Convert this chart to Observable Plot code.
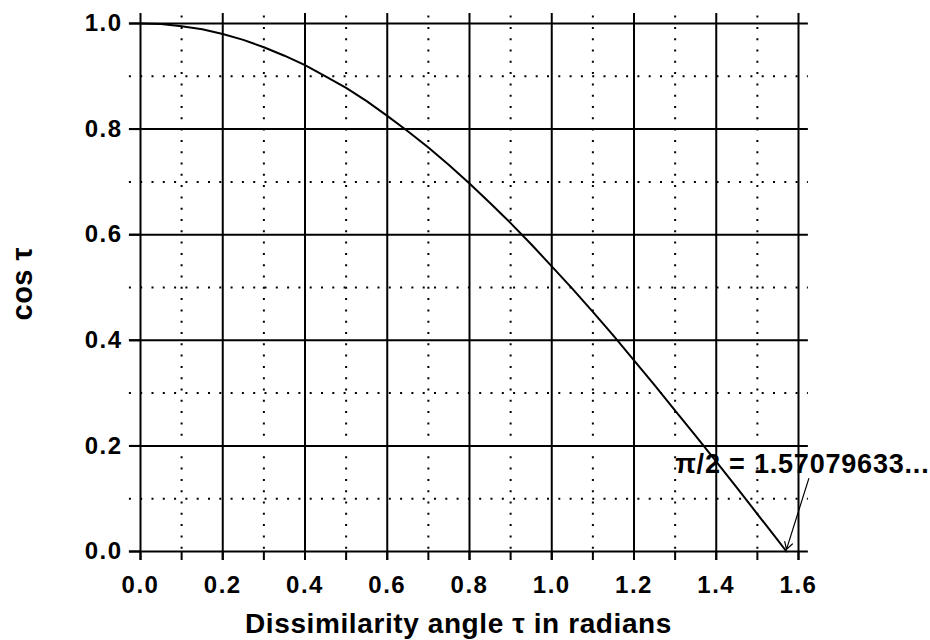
<!DOCTYPE html>
<html>
<head>
<meta charset="utf-8">
<script src="https://cdn.jsdelivr.net/npm/d3@7"></script>
<script src="https://cdn.jsdelivr.net/npm/@observablehq/plot@0.6"></script>
<style>
  html, body { margin: 0; padding: 0; background: #fff; }
  #chart svg { font-family: "Liberation Sans", Arial, sans-serif; }
</style>
</head>
<body>
<div id="chart"></div>
<script>
// Curve values
const tau = [0, 0.05, 0.1, 0.15, 0.2, 0.25, 0.3, 0.35, 0.4, 0.45, 0.5, 0.55, 0.6, 0.65, 0.7, 0.75,
  0.8, 0.85, 0.9, 0.95, 1.0, 1.05, 1.1, 1.15, 1.2, 1.25, 1.3, 1.35, 1.4, 1.45, 1.5, 1.55, 1.5708];
const cosTau = [1.000, 0.999, 0.995, 0.989, 0.980, 0.969, 0.955, 0.939, 0.921, 0.900, 0.878, 0.853,
  0.825, 0.796, 0.765, 0.732, 0.697, 0.660, 0.622, 0.582, 0.540, 0.498, 0.454, 0.409, 0.362, 0.315,
  0.267, 0.219, 0.170, 0.121, 0.071, 0.021, 0.000];

// Tick labels / grid positions
const xMajor = [0, 0.2, 0.4, 0.6, 0.8, 1.0, 1.2, 1.4, 1.6];
const xMinor = [0.1, 0.3, 0.5, 0.7, 0.9, 1.1, 1.3, 1.5];
const yMajor = [0, 0.2, 0.4, 0.6, 0.8, 1.0];
const yMinor = [0.1, 0.3, 0.5, 0.7, 0.9];

// Annotation
const noteText = ["π/2 = 1.57079633..."];
const noteX = [1.30];
const noteY = [0.148];
const arrowFromX = [1.625];
const arrowFromY = [0.138];
const arrowToX = [1.5708];
const arrowToY = [0.004];

const xTitle = "Dissimilarity angle τ in radians";
const yTitle = "cos τ";

const curve = tau.map((t, i) => ({t, c: cosTau[i]}));
const note = noteText.map((s, i) => ({s, x: noteX[i], y: noteY[i]}));
const arrows = arrowFromX.map((x, i) => ({x1: x, y1: arrowFromY[i], x2: arrowToX[i], y2: arrowToY[i]}));

const yLo = -0.017, yHi = 1.019, xLo = -0.027, xHi = 1.624;

const chart = Plot.plot({
  width: 930,
  height: 640,
  marginLeft: 140,
  marginRight: 132,
  marginTop: 23,
  marginBottom: 89,
  style: {fontFamily: "'Liberation Sans', Arial, sans-serif", color: "#000", background: "#fff"},
  x: {domain: [0, 1.6]},
  y: {domain: [0, 1]},
  marks: [
    Plot.ruleX(xMinor, {x: d => d, y1: yLo, y2: yHi, stroke: "#000", strokeWidth: 2, strokeDasharray: "2,9.3"}),
    Plot.ruleY(yMinor, {y: d => d, x1: xLo, x2: xHi, stroke: "#000", strokeWidth: 2, strokeDasharray: "2,9.3"}),
    Plot.ruleX(xMajor, {x: d => d, y1: yLo, y2: yHi, stroke: "#000", strokeWidth: 2}),
    Plot.ruleY(yMajor, {y: d => d, x1: xLo, x2: xHi, stroke: "#000", strokeWidth: 2}),
    Plot.axisX({ticks: xMinor, tickSize: 7, strokeWidth: 2, tickFormat: () => "", label: null}),
    Plot.axisY({ticks: yMinor, tickSize: 0, tickFormat: () => "", label: null}),
    Plot.axisX({ticks: xMajor, tickSize: 9, tickPadding: 15, strokeWidth: 2, tickFormat: d3.format(".1f"),
      label: null, fontSize: 24, fontWeight: "bold"}),
    Plot.axisY({ticks: yMajor, tickSize: 11, tickPadding: 7, strokeWidth: 2, tickFormat: d3.format(".1f"),
      label: null, fontSize: 24, fontWeight: "bold"}),
    Plot.line(curve, {x: "t", y: "c", stroke: "#000", strokeWidth: 2}),
    Plot.arrow(arrows, {x1: "x1", y1: "y1", x2: "x2", y2: "y2", bend: 0, headLength: 10, stroke: "#000", strokeWidth: 1.2}),
    Plot.text(note, {x: "x", y: "y", text: "s", textAnchor: "start", lineAnchor: "bottom", fontSize: 27, fontWeight: "bold", fill: "#000"}),
    Plot.text([xTitle], {frameAnchor: "bottom", dx: -11, dy: 62, lineAnchor: "top", fontSize: 28, fontWeight: "bold", fill: "#000"}),
    Plot.text([yTitle], {frameAnchor: "left", dx: -118, dy: 33, rotate: -90, fontSize: 29, fontWeight: "bold", fill: "#000"})
  ]
});
const tickLabels = new Set(xMajor.concat(yMajor).map(d3.format(".1f")));
chart.querySelectorAll("text").forEach(t => {
  const s = t.textContent;
  if (tickLabels.has(s)) {
    t.setAttribute("font-size", 24); t.style.fontSize = "24px"; t.style.fontWeight = "bold"; t.style.letterSpacing = "1.5px";
  } else if (s === noteText[0]) {
    t.style.fontSize = "27px"; t.style.letterSpacing = "0.8px";
  } else if (s === xTitle) {
    t.style.fontSize = "28px"; t.style.letterSpacing = "0.6px";
  } else if (s === yTitle) {
    t.style.fontSize = "29px"; t.style.letterSpacing = "0.5px";
  }
});
document.getElementById("chart").appendChild(chart);
</script>
</body>
</html>
